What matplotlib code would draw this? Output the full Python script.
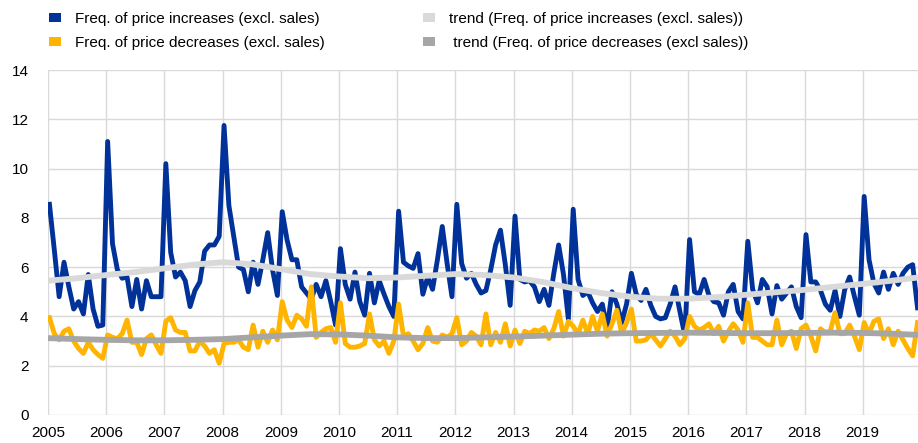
import numpy as np
import matplotlib
matplotlib.use("Agg")
import matplotlib.pyplot as plt
from matplotlib.patches import Patch

plt.rcParams['font.family'] = ['Liberation Sans', 'DejaVu Sans']

years = list(range(2005, 2020))
year_labels = [str(y) for y in years]

# Monthly frequency of price increases (excl. sales), Jan 2005 - Dec 2019
freq_increases = [
    8.55, 6.7, 4.8, 6.2, 5.2, 4.3, 4.6, 4.1, 5.7, 4.3, 3.6, 3.65,      # 2005
    11.1, 6.95, 5.9, 5.55, 5.6, 4.4, 5.5, 4.3, 5.45, 4.8, 4.8, 4.8,    # 2006
    10.2, 6.6, 5.6, 5.8, 5.45, 4.4, 5.05, 5.4, 6.65, 6.9, 6.9, 7.25,   # 2007
    11.75, 8.5, 7.25, 6.0, 5.9, 5.0, 6.2, 5.3, 6.3, 7.4, 5.9, 4.85,    # 2008
    8.25, 7.1, 6.3, 6.3, 5.2, 4.95, 4.7, 5.3, 4.8, 5.45, 4.6, 3.65,    # 2009
    6.75, 5.3, 4.7, 5.8, 4.6, 4.05, 5.75, 4.55, 5.45, 4.9, 4.4, 4.0,   # 2010
    8.27, 6.2, 6.05, 5.95, 6.55, 4.9, 5.6, 5.1, 6.3, 7.65, 6.15, 4.8,  # 2011
    8.55, 6.15, 5.55, 5.75, 5.3, 4.95, 5.05, 5.9, 6.9, 7.5, 6.1, 4.45, # 2012
    8.07, 5.5, 5.4, 5.45, 5.2, 4.6, 5.1, 4.45, 5.75, 6.9, 5.7, 3.9,    # 2013
    8.35, 5.5, 4.85, 5.0, 4.55, 4.2, 4.5, 3.5, 5.0, 4.5, 3.75, 4.5,    # 2014
    5.75, 4.9, 4.65, 5.1, 4.45, 4.0, 3.9, 3.95, 4.5, 5.2, 4.2, 3.25,   # 2015
    7.12, 5.0, 4.9, 5.5, 4.85, 4.6, 4.55, 4.05, 5.0, 5.3, 4.2, 3.9,    # 2016
    7.05, 5.1, 4.55, 5.5, 5.2, 4.1, 5.25, 4.7, 4.95, 5.2, 4.4, 3.95,   # 2017
    7.32, 5.4, 5.4, 5.05, 4.5, 4.25, 5.05, 4.0, 5.1, 5.6, 4.8, 4.05,   # 2018
    8.87, 6.3, 5.35, 4.95, 5.8, 5.1, 5.75, 5.3, 5.75, 6.0, 6.1, 4.35,  # 2019
]

# Monthly frequency of price decreases (excl. sales)
freq_decreases = [
    3.95, 3.3, 3.05, 3.4, 3.5, 3.0, 2.7, 2.5, 2.95, 2.65, 2.45, 2.3,   # 2005
    3.25, 3.15, 3.1, 3.3, 3.85, 2.95, 2.95, 2.45, 3.1, 3.25, 2.85, 2.5, # 2006
    3.8, 3.95, 3.45, 3.35, 3.35, 2.6, 2.6, 3.0, 2.8, 2.5, 2.65, 2.1,   # 2007
    2.9, 2.95, 2.95, 3.05, 2.75, 2.65, 3.65, 2.75, 3.4, 2.95, 3.45, 3.05, # 2008
    4.6, 3.85, 3.55, 4.05, 3.9, 3.6, 5.2, 3.15, 3.35, 3.5, 3.55, 2.95, # 2009
    4.55, 2.9, 2.75, 2.75, 2.8, 2.9, 4.1, 3.05, 2.8, 3.0, 2.5, 3.0,    # 2010
    4.5, 3.2, 3.3, 3.0, 2.65, 2.9, 3.55, 3.0, 2.95, 3.25, 3.15, 3.3,   # 2011
    3.95, 2.85, 3.0, 3.35, 3.2, 2.85, 4.1, 2.85, 3.35, 2.95, 3.7, 2.8, # 2012
    3.45, 2.9, 3.4, 3.3, 3.45, 3.4, 3.55, 3.1, 3.5, 4.2, 3.2, 3.8,     # 2013
    3.6, 3.3, 3.85, 3.3, 4.0, 3.4, 4.1, 3.2, 3.7, 4.25, 3.3, 3.75,     # 2014
    4.3, 3.0, 3.0, 3.05, 3.3, 3.05, 2.8, 3.1, 3.4, 3.2, 2.85, 3.1,     # 2015
    4.0, 3.6, 3.45, 3.55, 3.7, 3.3, 3.6, 3.0, 3.4, 3.7, 3.45, 2.95,    # 2016
    4.55, 3.15, 3.15, 3.0, 2.85, 2.85, 3.85, 2.85, 3.3, 3.4, 2.7, 3.5, # 2017
    3.65, 3.2, 2.6, 3.5, 3.35, 3.4, 4.15, 3.3, 3.3, 3.65, 3.2, 2.65,   # 2018
    3.75, 3.3, 3.8, 3.9, 3.1, 3.5, 2.85, 3.4, 3.05, 2.7, 2.4, 3.75,    # 2019
]

# Trend values read at half-year points
trend_dates = [2005.0, 2005.5, 2006.0, 2006.5, 2007.0, 2007.5, 2008.0, 2008.5,
               2009.0, 2009.5, 2010.0, 2010.5, 2011.0, 2011.5, 2012.0, 2012.5,
               2013.0, 2013.5, 2014.0, 2014.5, 2015.0, 2015.5, 2016.0, 2016.5,
               2017.0, 2017.5, 2018.0, 2018.5, 2019.0, 2019.5, 2019.95]
trend_increases = [5.45, 5.55, 5.68, 5.8, 5.95, 6.1, 6.2, 6.12,
                   5.92, 5.72, 5.62, 5.55, 5.58, 5.65, 5.72, 5.68,
                   5.58, 5.4, 5.15, 4.95, 4.8, 4.72, 4.72, 4.78,
                   4.88, 4.98, 5.08, 5.2, 5.32, 5.45, 5.58]
trend_decreases = [3.12, 3.08, 3.05, 3.03, 3.03, 3.05, 3.08, 3.15,
                   3.22, 3.28, 3.27, 3.22, 3.15, 3.12, 3.12, 3.15,
                   3.18, 3.22, 3.26, 3.3, 3.32, 3.33, 3.34, 3.33,
                   3.32, 3.32, 3.33, 3.34, 3.33, 3.3, 3.25]

labels = ["Freq. of price increases (excl. sales)",
          "Freq. of price decreases (excl. sales)",
          "trend (Freq. of price increases (excl. sales))",
          " trend (Freq. of price decreases (excl sales))"]
colors = ["#003299", "#FFB400", "#D9D9D9", "#A6A6A6"]

months = np.arange(len(freq_increases))
x = years[0] + months / 12.0 + 0.025

fig = plt.figure(figsize=(9.18, 4.43), dpi=100)
ax = fig.add_axes([48/918, 28/443, 870/918, 345/443])

ax.plot(x, freq_increases, color=colors[0], lw=3.5, solid_joinstyle='round', zorder=3)
ax.plot(x, freq_decreases, color=colors[1], lw=3.5, solid_joinstyle='round', zorder=4)
ax.plot(trend_dates, trend_increases, color=colors[2], lw=4.2, solid_capstyle='butt', zorder=5)
ax.plot(trend_dates, trend_decreases, color=colors[3], lw=4.2, solid_capstyle='butt', zorder=6)

ax.set_xlim(2005, 2019.95)
ax.set_ylim(0, 14)
ax.set_yticks(range(0, 15, 2))
ax.set_xticks(years)
ax.set_xticklabels(year_labels)
ax.grid(True, color="#D9D9D9", lw=1.0, zorder=0)
for s in ax.spines.values():
    s.set_visible(False)
ax.tick_params(axis='both', length=0, labelsize=11, colors='#000000')
ax.tick_params(axis='x', pad=8)
ax.tick_params(axis='y', pad=14)

handles = [Patch(facecolor=c, edgecolor='none') for c in colors]
fig.legend(handles, labels, loc='upper left', bbox_to_anchor=(40/918, 1 - 3/443),
           ncol=2, frameon=False, fontsize=11, handlelength=0.8, handleheight=0.55,
           handletextpad=0.9, columnspacing=6.4, labelspacing=0.62,
           borderaxespad=0.2)

fig.savefig("out.png", dpi=100)
